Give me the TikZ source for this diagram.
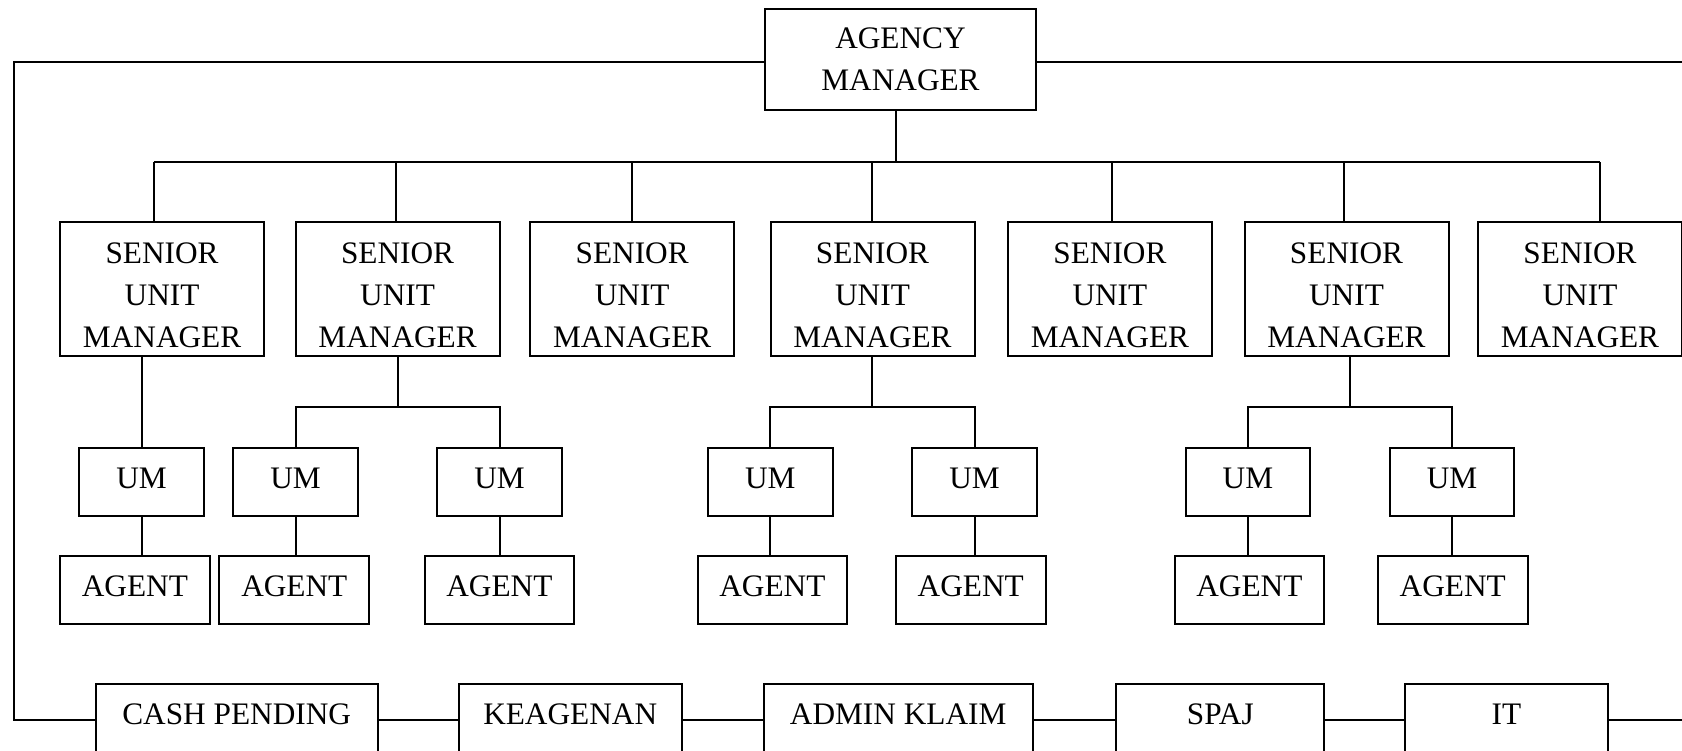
\documentclass[tikz,border=0pt]{standalone}
\usepackage{fontspec}
\setmainfont{Liberation Serif}
\usetikzlibrary{calc}

\tikzset{
  box/.style={draw, inner sep=0pt, align=center, font=\fontsize{31.3}{42}\selectfont},
  sumbox/.style={box, minimum width=204pt, minimum height=134pt, text height=117pt, text depth=0pt},
  umbox/.style={box, minimum width=124.5pt, minimum height=68pt, text depth=8pt},
  agentbox/.style={box, minimum width=149.7pt, minimum height=68pt, text depth=8pt},
  staffbox/.style={box, minimum width=#1, minimum height=72pt, text depth=12pt},
}

\begin{document}
\begin{tikzpicture}[x=1pt,y=-1pt,line width=2pt]
\useasboundingbox (0,0) rectangle (1682,750);

% top
\node[box, minimum width=271pt, minimum height=101pt] (am) at (900.5,59.5) {AGENCY\\MANAGER};

% senior unit managers, hung from the bus
\foreach \i/\x/\t in {1/162.1/153.8, 2/397.6/395.7, 3/632.2/631.8, 4/872.5/872.1,
                      5/1109.9/1112, 6/1346.5/1344.2, 7/1580/1600.4} {
  \node[sumbox] (sum\i) at (\x,289) {SENIOR\\UNIT\\MANAGER};
  \coordinate (t\i) at (\t,162);
  \draw (t\i) -- (t\i |- sum\i.north);
}
\coordinate (bus) at (896,162);
\draw (t1) -- (t7);
\draw (am.south -| bus) -- (bus);

% unit managers and agents
\foreach \i/\x/\y in {1/141.6/134.9, 2/295.6/294.3, 3/499.6/499.4, 4/770.3/772.4,
                      5/974.5/970.7, 6/1247.9/1249.4, 7/1452.1/1452.7} {
  \node[umbox] (um\i) at (\x,482.2) {UM};
  \node[agentbox] (ag\i) at (\y,590.2) {AGENT};
  \draw (um\i.south) -- (um\i.south |- ag\i.north);
}
\draw (um1.north) -- (um1.north |- sum1.south);
\foreach \s/\a/\b in {2/2/3, 4/4/5, 6/6/7} {
  \coordinate (fork\s) at ($(um\a.north)!0.5!(um\b.north)+(0,-40)$);
  \draw (sum\s.south -| fork\s) -- (fork\s);
  \draw (um\a.north) |- (fork\s) -| (um\b.north);
}

% staff row
\node[staffbox=282pt]   (cash)  at (236.7,720)  {CASH PENDING};
\node[staffbox=223.4pt] (keag)  at (570.2,720)  {KEAGENAN};
\node[staffbox=268.7pt] (admin) at (898.2,720)  {ADMIN KLAIM};
\node[staffbox=207.8pt] (spaj)  at (1220.3,720) {SPAJ};
\node[staffbox=203.4pt] (it)    at (1506.5,720) {IT};
\draw (cash) -- (keag) -- (admin) -- (spaj) -- (it);

% outer loop
\coordinate (lt) at (14,62);
\coordinate (lb) at (14,720);
\coordinate (rt) at (1700,62);
\coordinate (rb) at (1700,720);
\draw (am.west |- lt) -- (lt) -- (lb) -- (cash.west);
\draw (am.east |- rt) -- (rt) -- (rb) -- (it.east);
\end{tikzpicture}
\end{document}
